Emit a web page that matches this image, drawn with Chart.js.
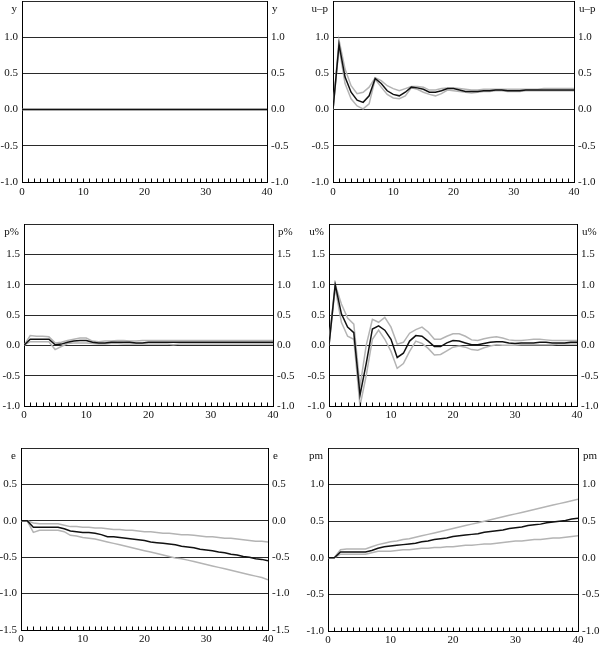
<!DOCTYPE html>
<html>
<head>
<meta charset="utf-8">
<script src="https://cdn.jsdelivr.net/npm/chart.js@4/dist/chart.umd.min.js"></script>
<style>
  body { margin: 0; background: #fff; }
  #wrap { position: relative; width: 600px; height: 645px; overflow: hidden; }
  canvas { position: absolute; }
</style>
</head>
<body>
<div id="wrap">
  <canvas id="c1" width="300" height="205" style="left:0;top:0"></canvas>
  <canvas id="c2" width="300" height="205" style="left:300px;top:0"></canvas>
  <canvas id="c3" width="300" height="215" style="left:0;top:210px"></canvas>
  <canvas id="c4" width="300" height="215" style="left:300px;top:210px"></canvas>
  <canvas id="c5" width="300" height="225" style="left:0;top:420px"></canvas>
  <canvas id="c6" width="300" height="225" style="left:300px;top:420px"></canvas>
</div>
<script>
// horizon (quarters)
const steps = [0,1,2,3,4,5,6,7,8,9,10,11,12,13,14,15,16,17,18,19,20,21,22,23,24,25,26,27,28,29,30,31,32,33,34,35,36,37,38,39,40];
const xTicks = [0, 10, 20, 30, 40];

// y
const yMid = [0,0,0,0,0,0,0,0,0,0,0,0,0,0,0,0,0,0,0,0,0,0,0,0,0,0,0,0,0,0,0,0,0,0,0,0,0,0,0,0,0];
const yHi  = [0,0,0,0,0,0,0,0,0,0,0,0,0,0,0,0,0,0,0,0,0,0,0,0,0,0,0,0,0,0,0,0,0,0,0,0,0,0,0,0,0];
const yLo  = [0,0,0,0,0,0,0,0,0,0,0,0,0,0,0,0,0,0,0,0,0,0,0,0,0,0,0,0,0,0,0,0,0,0,0,0,0,0,0,0,0];

// u-p
const upMid = [0, 0.90, 0.45, 0.24, 0.13, 0.10, 0.19, 0.43, 0.36, 0.26, 0.21, 0.19, 0.24, 0.31, 0.30, 0.28, 0.24, 0.24, 0.26, 0.29, 0.29, 0.27, 0.25, 0.25, 0.25, 0.26, 0.26, 0.27, 0.27, 0.26, 0.26, 0.26, 0.27, 0.27, 0.27, 0.27, 0.27, 0.27, 0.27, 0.27, 0.27];
const upHi  = [0, 0.96, 0.56, 0.33, 0.22, 0.24, 0.31, 0.44, 0.40, 0.33, 0.29, 0.26, 0.29, 0.32, 0.32, 0.31, 0.27, 0.27, 0.29, 0.30, 0.30, 0.29, 0.28, 0.27, 0.27, 0.28, 0.28, 0.28, 0.28, 0.28, 0.28, 0.28, 0.28, 0.28, 0.28, 0.29, 0.29, 0.29, 0.29, 0.29, 0.29];
const upLo  = [0, 0.86, 0.36, 0.15, 0.05, 0.01, 0.08, 0.42, 0.31, 0.21, 0.16, 0.15, 0.19, 0.30, 0.28, 0.24, 0.21, 0.19, 0.22, 0.27, 0.26, 0.25, 0.24, 0.23, 0.24, 0.25, 0.25, 0.26, 0.26, 0.25, 0.25, 0.25, 0.26, 0.26, 0.26, 0.26, 0.26, 0.26, 0.26, 0.26, 0.26];

// p%
const pMid = [0, 0.10, 0.10, 0.10, 0.10, 0.01, 0.02, 0.05, 0.07, 0.08, 0.08, 0.05, 0.04, 0.04, 0.05, 0.05, 0.05, 0.05, 0.04, 0.04, 0.05, 0.05, 0.05, 0.05, 0.05, 0.05, 0.05, 0.05, 0.05, 0.05, 0.05, 0.05, 0.05, 0.05, 0.05, 0.05, 0.05, 0.05, 0.05, 0.05, 0.05];
const pHi  = [0, 0.16, 0.15, 0.15, 0.14, 0.04, 0.05, 0.08, 0.10, 0.12, 0.12, 0.07, 0.06, 0.07, 0.07, 0.08, 0.08, 0.07, 0.07, 0.08, 0.08, 0.08, 0.08, 0.08, 0.08, 0.08, 0.08, 0.08, 0.08, 0.08, 0.08, 0.08, 0.08, 0.08, 0.08, 0.08, 0.08, 0.08, 0.08, 0.08, 0.08];
const pLo  = [0, 0.06, 0.06, 0.06, 0.06, -0.07, -0.02, 0.03, 0.04, 0.04, 0.04, 0.03, 0.02, 0.02, 0.03, 0.03, 0.02, 0.02, 0.02, 0.02, 0.02, 0.02, 0.02, 0.02, 0.01, 0.02, 0.02, 0.02, 0.02, 0.02, 0.02, 0.02, 0.02, 0.02, 0.02, 0.02, 0.02, 0.02, 0.02, 0.02, 0.02];

// u%
const uMid = [0, 1.00, 0.52, 0.30, 0.21, -0.82, -0.30, 0.27, 0.32, 0.25, 0.10, -0.20, -0.13, 0.07, 0.16, 0.15, 0.07, -0.02, -0.02, 0.04, 0.08, 0.07, 0.04, 0.01, 0.01, 0.03, 0.05, 0.06, 0.06, 0.04, 0.03, 0.04, 0.04, 0.04, 0.05, 0.05, 0.04, 0.04, 0.04, 0.05, 0.05];
const uHi  = [0.05, 1.00, 0.68, 0.45, 0.35, -0.68, 0.00, 0.43, 0.38, 0.46, 0.30, 0.02, 0.05, 0.20, 0.26, 0.30, 0.22, 0.10, 0.10, 0.15, 0.19, 0.19, 0.15, 0.09, 0.08, 0.11, 0.13, 0.14, 0.12, 0.09, 0.08, 0.08, 0.09, 0.10, 0.10, 0.09, 0.08, 0.08, 0.08, 0.08, 0.08];
const uLo  = [0, 0.95, 0.38, 0.15, 0.10, -1.00, -0.50, 0.10, 0.25, 0.10, -0.10, -0.38, -0.30, -0.10, 0.07, 0.03, -0.05, -0.16, -0.15, -0.09, -0.03, -0.01, -0.03, -0.07, -0.08, -0.04, -0.01, 0.01, 0.00, 0.00, 0.00, 0.01, 0.01, 0.01, 0.01, 0.01, 0.01, 0.02, 0.02, 0.02, 0.02];

// e
const eMid = [0, 0, -0.09, -0.09, -0.09, -0.09, -0.09, -0.11, -0.14, -0.15, -0.16, -0.16, -0.17, -0.19, -0.22, -0.22, -0.23, -0.24, -0.25, -0.26, -0.27, -0.29, -0.30, -0.31, -0.32, -0.33, -0.35, -0.36, -0.37, -0.39, -0.40, -0.41, -0.43, -0.44, -0.46, -0.47, -0.49, -0.50, -0.52, -0.53, -0.55];
const eHi  = [0, 0, -0.03, -0.04, -0.04, -0.04, -0.04, -0.06, -0.08, -0.08, -0.09, -0.09, -0.10, -0.10, -0.11, -0.12, -0.12, -0.13, -0.13, -0.14, -0.15, -0.15, -0.16, -0.17, -0.17, -0.18, -0.19, -0.19, -0.20, -0.21, -0.22, -0.22, -0.23, -0.24, -0.24, -0.25, -0.26, -0.27, -0.28, -0.28, -0.29];
const eLo  = [0, 0, -0.16, -0.13, -0.13, -0.13, -0.13, -0.15, -0.20, -0.21, -0.23, -0.24, -0.25, -0.27, -0.29, -0.31, -0.33, -0.35, -0.37, -0.39, -0.41, -0.43, -0.45, -0.47, -0.49, -0.51, -0.52, -0.54, -0.56, -0.58, -0.60, -0.62, -0.64, -0.66, -0.68, -0.70, -0.72, -0.74, -0.76, -0.78, -0.81];

// pm
const pmMid = [0, 0, 0.08, 0.08, 0.08, 0.08, 0.08, 0.10, 0.13, 0.15, 0.16, 0.17, 0.18, 0.19, 0.20, 0.22, 0.23, 0.25, 0.26, 0.27, 0.29, 0.30, 0.31, 0.32, 0.33, 0.35, 0.36, 0.37, 0.38, 0.40, 0.41, 0.42, 0.44, 0.45, 0.46, 0.48, 0.49, 0.50, 0.51, 0.53, 0.54];
const pmHi  = [0, 0, 0.11, 0.12, 0.12, 0.12, 0.12, 0.15, 0.18, 0.20, 0.22, 0.23, 0.25, 0.26, 0.28, 0.30, 0.32, 0.34, 0.36, 0.38, 0.40, 0.42, 0.44, 0.46, 0.48, 0.50, 0.52, 0.54, 0.56, 0.58, 0.60, 0.62, 0.64, 0.66, 0.68, 0.70, 0.72, 0.74, 0.76, 0.78, 0.80];
const pmLo  = [0, 0, 0.05, 0.05, 0.05, 0.05, 0.05, 0.07, 0.09, 0.09, 0.09, 0.10, 0.11, 0.11, 0.12, 0.13, 0.13, 0.14, 0.14, 0.15, 0.15, 0.16, 0.17, 0.17, 0.18, 0.19, 0.19, 0.20, 0.21, 0.22, 0.23, 0.23, 0.24, 0.25, 0.25, 0.26, 0.27, 0.27, 0.28, 0.29, 0.30];

const FONT = { family: '"Liberation Serif", "DejaVu Serif", serif', size: 11 };
const INK = '#111';
const BAND = '#b4b4b4';

// draws the little minor ticks inside the bottom axis and the variable name at top
const panelDeco = {
  id: 'panelDeco',
  afterDraw(chart) {
    const { ctx, chartArea } = chart;
    const xs = chart.scales.x;
    ctx.save();
    ctx.strokeStyle = '#000';
    ctx.lineWidth = 1;
    ctx.beginPath();
    steps.forEach(s => {
      if (s === 0 || s === 40) return;
      const px = Math.round(xs.getPixelForValue(s)) + 0.5;
      ctx.moveTo(px, chartArea.bottom);
      ctx.lineTo(px, chartArea.bottom - 3.5);
    });
    ctx.stroke();
    const name = chart.options.plugins.panelDeco.name;
    ctx.fillStyle = INK;
    ctx.font = FONT.size + 'px ' + FONT.family;
    ctx.textBaseline = 'middle';
    ctx.textAlign = 'right';
    ctx.fillText(name, chartArea.left - 5, chartArea.top + 8);
    ctx.textAlign = 'left';
    ctx.fillText(name, chartArea.right + 5, chartArea.top + 8);
    ctx.restore();
  }
};

function makePanel(id, name, mid, hi, lo, yMin, yMax, box) {
  const yTickCb = function (v) {
    if (Math.abs(v - yMax) < 1e-9) return '';
    return Number(v).toFixed(1);
  };
  new Chart(document.getElementById(id), {
    type: 'line',
    data: {
      labels: steps,
      datasets: [
        { data: mid, borderColor: INK, borderWidth: 1.5 },
        { data: hi, borderColor: BAND, borderWidth: 1.5 },
        { data: lo, borderColor: BAND, borderWidth: 1.5 }
      ].map(d => Object.assign(d, { pointRadius: 0, tension: 0, fill: false, yAxisID: 'y' }))
    },
    options: {
      responsive: false,
      animation: false,
      events: [],
      layout: { padding: { top: box.top, left: 0, right: 0, bottom: 0 } },
      plugins: { legend: { display: false }, tooltip: { enabled: false }, panelDeco: { name: name } },
      scales: {
        x: {
          type: 'linear', min: 0, max: 40,
          afterBuildTicks: s => { s.ticks = xTicks.map(v => ({ value: v })); },
          ticks: { font: FONT, color: INK, padding: box.xp, maxRotation: 0, callback: v => String(v) },
          grid: { display: false, drawTicks: false },
          border: { display: true, color: '#000', width: 1 },
          afterFit: s => { s.height = box.xh; s.paddingLeft = 0; s.paddingRight = 0; }
        },
        y: {
          position: 'left', min: yMin, max: yMax,
          ticks: { stepSize: 0.5, font: FONT, color: INK, padding: 4, callback: yTickCb },
          grid: { color: '#2a2a2a', lineWidth: 1, drawTicks: false },
          border: { display: true, color: '#000', width: 1 },
          afterFit: s => { s.width = box.lw; s.paddingTop = 0; s.paddingBottom = 0; }
        },
        y2: {
          position: 'right', min: yMin, max: yMax,
          ticks: { stepSize: 0.5, font: FONT, color: INK, padding: 4, callback: yTickCb },
          grid: { display: false, drawTicks: false },
          border: { display: true, color: '#000', width: 1 },
          afterFit: s => { s.width = box.rw; s.paddingTop = 0; s.paddingBottom = 0; }
        }
      }
    },
    plugins: [panelDeco]
  });
}

makePanel('c1', 'y', yMid, yHi, yLo, -1.0, 1.5, { top: 1, xh: 23, lw: 22, rw: 33, xp: 4 });
makePanel('c2', 'u\u2013p', upMid, upHi, upLo, -1.0, 1.5, { top: 1, xh: 23, lw: 33, rw: 26, xp: 4 });
makePanel('c3', 'p%', pMid, pHi, pLo, -1.0, 2.0, { top: 14, xh: 19, lw: 24, rw: 27, xp: 3 });
makePanel('c4', 'u%', uMid, uHi, uLo, -1.0, 2.0, { top: 14, xh: 19, lw: 29, rw: 23, xp: 3 });
makePanel('c5', 'e', eMid, eHi, eLo, -1.5, 1.0, { top: 28, xh: 15, lw: 21, rw: 32, xp: 3 });
makePanel('c6', 'pm', pmMid, pmHi, pmLo, -1.0, 1.5, { top: 28, xh: 14, lw: 28, rw: 22, xp: 3 });
</script>
</body>
</html>
